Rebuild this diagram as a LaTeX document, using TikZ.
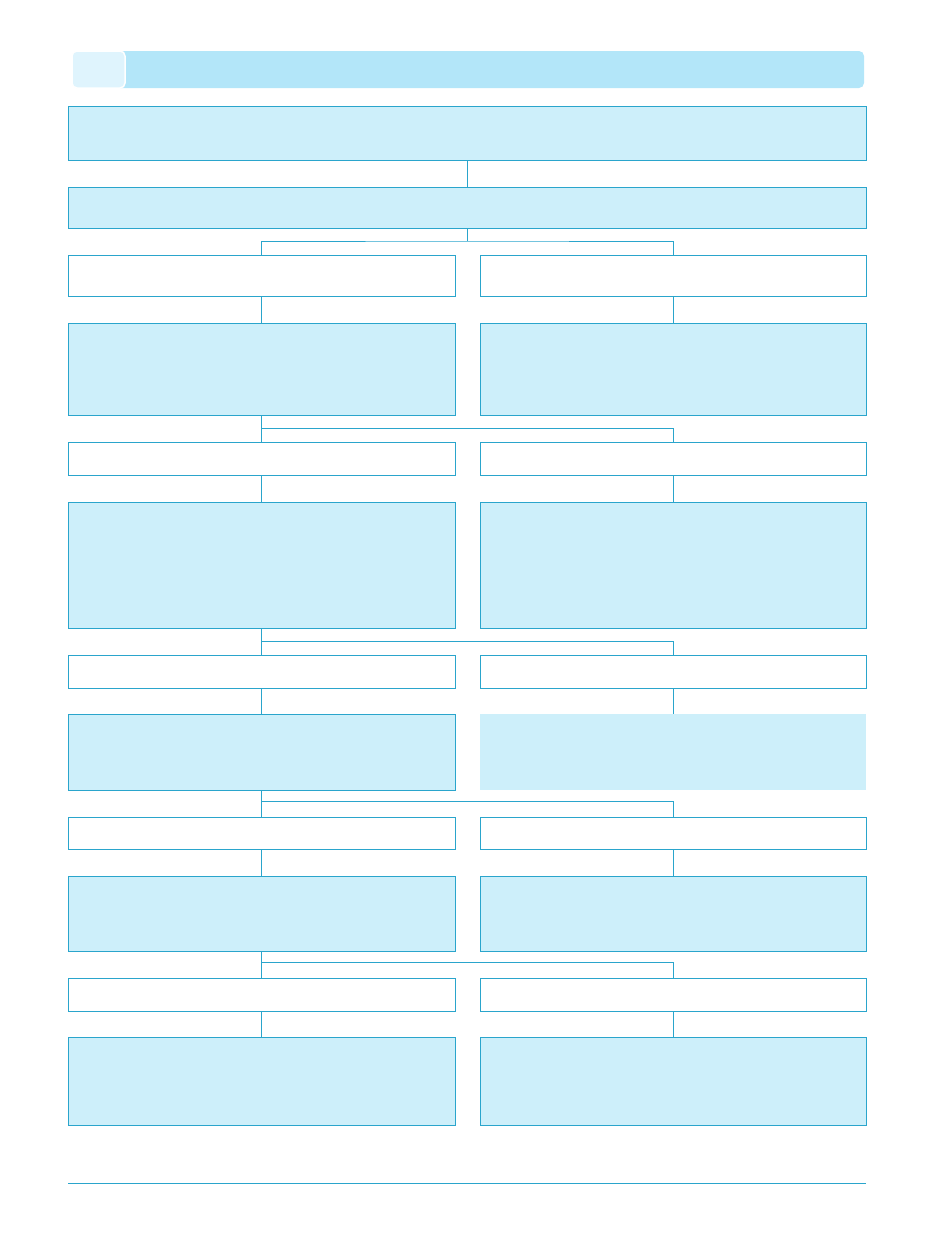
\documentclass[tikz,border=0pt]{standalone}
\usetikzlibrary{calc}
\definecolor{boxfill}{HTML}{CDEFFA}
\definecolor{boxline}{HTML}{2AA5CC}
\definecolor{barfill}{HTML}{B3E6F9}
\definecolor{tabfill}{HTML}{DFF4FD}
\tikzset{
  blue box/.style={draw=boxline, fill=boxfill, line width=1pt, inner sep=0pt, outer sep=0pt},
  white box/.style={draw=boxline, fill=white, line width=1pt, inner sep=0pt, outer sep=0pt},
  plain box/.style={fill=boxfill, inner sep=0pt, outer sep=0pt},
  link/.style={draw=boxline, line width=1pt},
}
\newcommand{\mybx}[6]{\node[#6, anchor=north west, minimum width=#4pt-#2pt, minimum height=#5pt-#3pt] (#1) at (#2pt,-#3pt) {};}
\begin{document}
\begin{tikzpicture}
\useasboundingbox (0,0) rectangle (935pt,-1254pt);
% header
\fill[barfill, rounded corners=5pt] (72pt,-51pt) rectangle (864pt,-88pt);
\draw[fill=tabfill, draw=white, line width=1.5pt, rounded corners=5pt] (72pt,-51pt) rectangle (125pt,-88pt);
% boxes
\mybx{t1}{68}{106}{866}{160}{blue box}
\mybx{t2}{68}{187}{866}{228}{blue box}
\mybx{aL}{68}{255}{455}{296}{white box}
\mybx{aR}{480}{255}{866}{296}{white box}
\mybx{bL}{68}{323}{455}{415}{blue box}
\mybx{bR}{480}{323}{866}{415}{blue box}
\mybx{cL}{68}{442}{455}{475}{white box}
\mybx{cR}{480}{442}{866}{475}{white box}
\mybx{dL}{68}{502}{455}{628}{blue box}
\mybx{dR}{480}{502}{866}{628}{blue box}
\mybx{eL}{68}{655}{455}{688}{white box}
\mybx{eR}{480}{655}{866}{688}{white box}
\mybx{fL}{68}{714}{455}{790}{blue box}
\mybx{fR}{480}{714}{866}{790}{plain box}
\mybx{gL}{68}{817}{455}{849}{white box}
\mybx{gR}{480}{817}{866}{849}{white box}
\mybx{hL}{68}{876}{455}{951}{blue box}
\mybx{hR}{480}{876}{866}{951}{blue box}
\mybx{iL}{68}{978}{455}{1011}{white box}
\mybx{iR}{480}{978}{866}{1011}{white box}
\mybx{jL}{68}{1037}{455}{1125}{blue box}
\mybx{jR}{480}{1037}{866}{1125}{blue box}
% connectors
\draw[link] (t1.south) -- (t2.north);
\coordinate (j1) at (467pt,-241pt);
\draw[link] (t2.south) -- (j1);
\draw[link] (aL.north) |- (j1) -| (aR.north);
\draw[link] (aL.south) -- (bL.north);
\draw[link] (aR.south) -- (bR.north);
\draw[link] (bL.south) -- (cL.north);
\coordinate (j2) at (261.5pt,-428pt);
\draw[link] (j2) -| (cR.north);
\draw[link] (cL.south) -- (dL.north);
\draw[link] (cR.south) -- (dR.north);
\draw[link] (dL.south) -- (eL.north);
\coordinate (j3) at (261.5pt,-641pt);
\draw[link] (j3) -| (eR.north);
\draw[link] (eL.south) -- (fL.north);
\draw[link] (eR.south) -- (fR.north);
\draw[link] (fL.south) -- (gL.north);
\coordinate (j4) at (261.5pt,-801pt);
\draw[link] (j4) -| (gR.north);
\draw[link] (gL.south) -- (hL.north);
\draw[link] (gR.south) -- (hR.north);
\draw[link] (hL.south) -- (iL.north);
\coordinate (j5) at (261.5pt,-962pt);
\draw[link] (j5) -| (iR.north);
\draw[link] (iL.south) -- (jL.north);
\draw[link] (iR.south) -- (jR.north);
% bottom rule
\coordinate (r1) at (68pt,-1183pt);
\coordinate (r2) at (866pt,-1183pt);
\draw[draw=boxline, line width=0.8pt] (r1) -- (r2);
\end{tikzpicture}
\end{document}
